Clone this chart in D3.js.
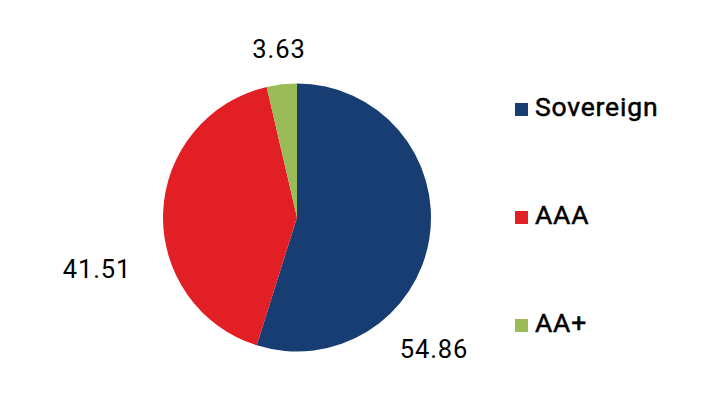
<!DOCTYPE html>
<html><head><meta charset="utf-8">
<script src="https://cdn.jsdelivr.net/npm/d3@7"></script>
<style>body{margin:0;background:#fff}svg{display:block}text{font-family:Roboto,"Noto Sans",sans-serif}</style>
</head><body>
<svg id="c" width="706" height="410"></svg>
<script>
const categories = ["Sovereign", "AAA", "AA+"];
const values = [54.86, 41.51, 3.63];
const colors = ["#173d72", "#e31f26", "#9bbb59"];
const labelPos = [[434, 358], [97, 278], [279, 58]];

const svg = d3.select("#c");
const cx = 297, cy = 217.5, r = 134;
const pie = d3.pie().sort(null).value(d => d.v);
const data = categories.map((c, i) => ({c, v: values[i], col: colors[i], lp: labelPos[i]}));
const arcs = pie(data);
const arc = d3.arc().innerRadius(0).outerRadius(r);
const g = svg.append("g").attr("transform", `translate(${cx},${cy})`);
g.selectAll("path").data(arcs).join("path").attr("d", arc).attr("fill", d => d.data.col);

svg.selectAll("text.lbl").data(data).join("text").attr("class", "lbl")
  .attr("x", d => d.lp[0]).attr("y", d => d.lp[1]).attr("text-anchor", "middle")
  .attr("font-size", 25.5).attr("letter-spacing", 0.9).attr("fill", "#000").text(d => d.v.toFixed(2));

const ly = d3.scalePoint().domain(categories).range([109, 325]);
const lg = svg.selectAll("g.leg").data(categories).join("g").attr("class", "leg")
  .attr("transform", d => `translate(515,${ly(d)})`);
lg.append("rect").attr("x", 0).attr("y", -6).attr("width", 13).attr("height", 13).attr("fill", (d, i) => colors[i]);
lg.append("text").attr("x", 20).attr("y", 7).attr("font-size", 26.5).attr("letter-spacing", 0.8)
  .attr("stroke", "#000").attr("stroke-width", 0.5).attr("fill", "#000").text(d => d);
</script>
</body></html>
